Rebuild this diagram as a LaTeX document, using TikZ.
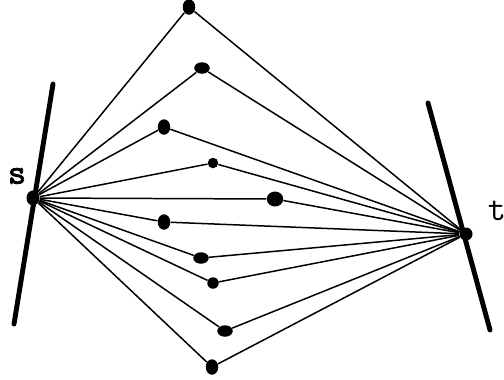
\documentclass[tikz,border=0pt]{standalone}
\usepackage{fontspec}
\setmonofont{Latin Modern Mono}
\newfontfamily\boldmono[FakeBold=2.5]{Latin Modern Mono}
\usetikzlibrary{shapes.geometric}
\tikzset{
  dt/.style={ellipse,fill,inner sep=0pt,minimum width=2.3mm,minimum height=2.3mm},
  dtw/.style={dt,minimum width=3.1mm,minimum height=2.3mm},
  dth/.style={dt,minimum width=2.5mm,minimum height=3.1mm},
  ed/.style={line width=0.85pt},
  bar/.style={line width=2.8pt,line cap=round},
  lbl/.style={font=\ttfamily\fontsize{20}{20}\selectfont}
}

\begin{document}
\begin{tikzpicture}
\useasboundingbox (0,0) rectangle (10.08,7.58);
\coordinate (sTop) at (1.06,5.90); \coordinate (sBot) at (0.28,1.10);
\coordinate (tTop) at (8.56,5.52); \coordinate (tBot) at (9.80,0.98);
\draw[bar] (sTop) -- (sBot); \draw[bar] (tTop) -- (tBot);
\node[dt,minimum width=2.6mm,minimum height=3mm] (s) at (0.66,3.62) {};
\node[dt,minimum width=2.6mm,minimum height=2.6mm] (t) at (9.32,2.90) {};
\node[lbl,font=\boldmono\fontsize{20}{20}\selectfont] (ls) at (0.34,4.06) {s};
\node[lbl] (lt) at (9.94,3.36) {t};
\node[dth] (m1) at (3.78,7.44) {};
\node[dtw] (m2) at (4.04,6.22) {};
\node[dth] (m3) at (3.28,5.04) {};
\node[dt,minimum size=2.1mm] (m4) at (4.26,4.32) {};
\node[dt,minimum width=3.3mm,minimum height=3mm] (m5) at (5.50,3.60) {};
\node[dth] (m6) at (3.28,3.14) {};
\node[dtw] (m7) at (4.02,2.42) {};
\node[dt] (m8) at (4.26,1.92) {};
\node[dtw] (m9) at (4.50,0.96) {};
\node[dth] (m10) at (4.24,0.24) {};
\draw[ed] (s) -- (m1) -- (t); \draw[ed] (s) -- (m2) -- (t);
\draw[ed] (s) -- (m3) -- (t); \draw[ed] (s) -- (m4) -- (t);
\draw[ed] (s) -- (m5) -- (t); \draw[ed] (s) -- (m6) -- (t);
\draw[ed] (s) -- (m7) -- (t); \draw[ed] (s) -- (m8) -- (t);
\draw[ed] (s) -- (m9) -- (t); \draw[ed] (s) -- (m10) -- (t);
\end{tikzpicture}
\end{document}
